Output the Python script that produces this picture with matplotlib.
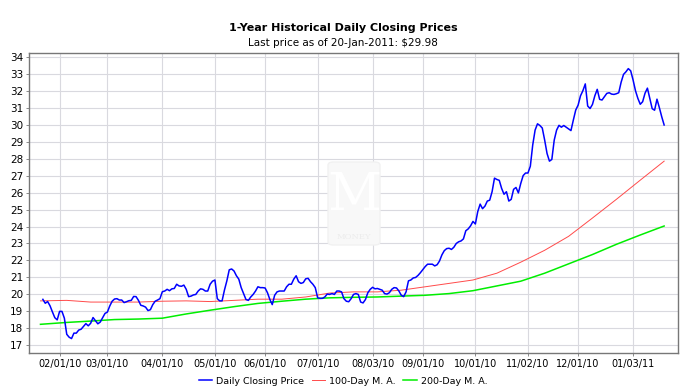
import numpy as np
import matplotlib
matplotlib.use('Agg')
import matplotlib.pyplot as plt
from matplotlib.patches import FancyBboxPatch

# ======
# data (one per weekday from 2010-01-21)
# ======
START = '2010-01-21'

close = [
    19.71, 19.48, 19.58, 19.33, 18.97, 18.63, 18.50, 19.00, 19.00, 18.60,
    17.65, 17.48, 17.40, 17.72, 17.72, 17.90, 17.95, 18.12, 18.28, 18.15,
    18.30, 18.64, 18.45, 18.27, 18.37, 18.63, 18.88, 18.96, 19.32, 19.60,
    19.73, 19.75, 19.67, 19.67, 19.52, 19.57, 19.63, 19.65, 19.88, 19.87,
    19.65, 19.36, 19.32, 19.25, 19.05, 19.10, 19.40, 19.60, 19.67, 19.75,
    20.16, 20.20, 20.30, 20.22, 20.33, 20.35, 20.60, 20.50, 20.48, 20.55,
    20.30, 19.87, 19.90, 19.97, 20.00, 20.20, 20.33, 20.30, 20.20, 20.20,
    20.60, 20.78, 20.85, 19.75, 19.62, 19.62, 20.26, 20.80, 21.45, 21.50,
    21.38, 21.10, 20.90, 20.40, 20.05, 19.70, 19.65, 19.85, 20.00, 20.20,
    20.45, 20.40, 20.40, 20.38, 20.10, 19.70, 19.40, 19.95, 20.15, 20.20,
    20.20, 20.20, 20.45, 20.60, 20.60, 20.90, 21.10, 20.75, 20.65, 20.70,
    20.92, 20.95, 20.75, 20.60, 20.40, 19.80, 19.77, 19.77, 19.85, 20.02,
    20.00, 20.05, 20.00, 20.20, 20.20, 20.15, 19.75, 19.60, 19.57, 19.75,
    20.00, 20.05, 20.00, 19.55, 19.50, 19.70, 20.10, 20.30, 20.42, 20.33,
    20.35, 20.30, 20.25, 20.05, 20.02, 20.10, 20.30, 20.40, 20.38, 20.20,
    19.95, 19.87, 20.15, 20.80, 20.85, 20.97, 21.00, 21.12, 21.28, 21.46,
    21.64, 21.78, 21.78, 21.78, 21.68, 21.75, 21.97, 22.33, 22.58, 22.70,
    22.72, 22.65, 22.78, 23.00, 23.10, 23.15, 23.27, 23.75, 23.86, 24.04,
    24.30, 24.15, 24.88, 25.32, 25.05, 25.20, 25.50, 25.55, 26.05, 26.85,
    26.77, 26.72, 26.24, 25.90, 26.05, 25.50, 25.60, 26.19, 26.30, 25.98,
    26.54, 27.00, 27.15, 27.15, 27.55, 28.80, 29.68, 30.05, 29.95, 29.80,
    29.09, 28.30, 27.85, 27.95, 29.09, 29.68, 29.96, 29.85, 29.95, 29.85,
    29.75, 29.65, 30.27, 30.86, 31.15, 31.70, 32.00, 32.40, 31.10, 30.95,
    31.19, 31.70, 32.08, 31.49, 31.45, 31.64, 31.84, 31.88, 31.80, 31.78,
    31.82, 31.88, 32.50, 32.96, 33.11, 33.30, 33.17, 32.63, 32.00, 31.55,
    31.20, 31.35, 31.85, 32.15, 31.55, 30.94, 30.85, 31.50, 31.00, 30.46,
    29.98,
]

# moving averages, read every 10 weekdays
ma_days = [-1, 10, 20, 30, 40, 50, 60, 70, 80, 90, 100, 110, 120, 130,
           140, 150, 160, 170, 180, 190, 200, 210, 220, 230, 240, 250, 260]
ma100 = [19.62, 19.65, 19.55, 19.55, 19.55, 19.60, 19.62, 19.58, 19.65,
         19.72, 19.72, 19.85, 20.08, 20.15, 20.15, 20.25, 20.45, 20.65,
         20.85, 21.25, 21.90, 22.60, 23.42, 24.50, 25.60, 26.73, 27.85]
ma200 = [18.24, 18.35, 18.43, 18.52, 18.55, 18.60, 18.85, 19.07, 19.28,
         19.47, 19.60, 19.72, 19.80, 19.83, 19.85, 19.90, 19.95, 20.05,
         20.22, 20.50, 20.78, 21.25, 21.80, 22.35, 22.95, 23.50, 24.03]

tick_dates = ['2010-02-01', '2010-03-01', '2010-04-01', '2010-05-01',
              '2010-06-01', '2010-07-01', '2010-08-03', '2010-09-01',
              '2010-10-01', '2010-11-02', '2010-12-01', '2011-01-03']
tick_labels = ['02/01/10', '03/01/10', '04/01/10', '05/01/10', '06/01/10',
               '07/01/10', '08/03/10', '09/01/10', '10/01/10', '11/02/10',
               '12/01/10', '01/03/11']

TITLE = '1-Year Historical Daily Closing Prices'
SUBTITLE = 'Last price as of 20-Jan-2011: $29.98'

# ======
# plot
# ======
plt.rcParams['font.family'] = ['DejaVu Sans']

fig = plt.figure(figsize=(7, 3.9), dpi=100)
ax = fig.add_axes([29 / 700, 1 - 353 / 390, 649 / 700, 300 / 390])

# x axis is a weekday timeline (weekends skipped)
days = np.arange(len(close))
ticks = np.busday_count(START, tick_dates)

# faint watermark behind the grid
wm = FancyBboxPatch((328 / 700, 1 - 245 / 390), 52 / 700, 83 / 390,
                    boxstyle='round,pad=0,rounding_size=0.008',
                    transform=fig.transFigure, facecolor='#f8f8f8',
                    edgecolor='#f1f1f1', lw=1.0, zorder=0)
fig.patches.append(wm)
fig.text(354 / 700, 1 - 195 / 390, 'M', ha='center', va='center',
         fontsize=38, family='DejaVu Serif', color='#ffffff', zorder=1)
fig.text(354 / 700, 1 - 237 / 390, 'MONEY', ha='center', va='center',
         fontsize=6, family='DejaVu Serif', color='#ececec', zorder=1)
ax.set_facecolor('none')

ax.plot(days, close, color='#0000ff', lw=1.1, zorder=4,
        label='Daily Closing Price')
ax.plot(ma_days, ma100, color='#ff4a4a', lw=0.7, zorder=3,
        label='100-Day M. A.')
ax.plot(ma_days, ma200, color='#00ee00', lw=1.1, zorder=3,
        label='200-Day M. A.')

ax.set_xlim(-5.8, 265.8)
ax.set_ylim(16.55, 34.22)
ax.set_yticks(np.arange(17, 35, 1))
ax.set_xticks(ticks)
ax.set_xticklabels(tick_labels)

ax.grid(True, color='#d9d9df', lw=0.8)
ax.set_axisbelow(True)
for s in ax.spines.values():
    s.set_color('#777777')
    s.set_linewidth(1.0)
ax.tick_params(axis='both', labelsize=7, length=2, width=0.6,
               color='#777777', pad=2)
ax.tick_params(axis='y', labelsize=7.5)

fig.text(343 / 700, 1 - 28 / 390, TITLE, ha='center', va='center',
         fontsize=8, fontweight='bold')
fig.text(343 / 700, 1 - 43 / 390, SUBTITLE, ha='center', va='center',
         fontsize=7.5)

fig.legend(loc='center', bbox_to_anchor=(343 / 700, 1 - 381 / 390), ncol=3,
           frameon=False, fontsize=6.8, handlelength=1.45,
           handletextpad=0.4, columnspacing=0.8, borderaxespad=0)

fig.savefig('out.png', dpi=100, facecolor='white')
